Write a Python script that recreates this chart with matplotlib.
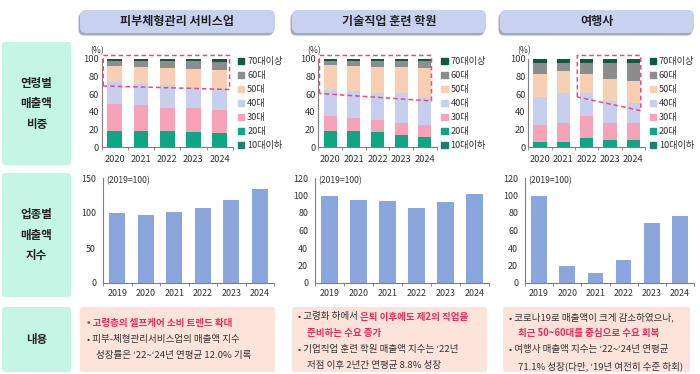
import matplotlib
matplotlib.use('Agg')
import matplotlib.pyplot as plt
from matplotlib.patches import FancyBboxPatch, Patch
import numpy as np

plt.rcParams['font.family'] = ['Noto Sans CJK KR', 'DejaVu Sans']

# ---- data ----
titles = ['피부체형관리 서비스업', '기술직업 훈련 학원', '여행사']
row_labels = ['연령별\n매출액\n비중', '업종별\n매출액\n지수', '내용']

share_years = ['2020', '2021', '2022', '2023', '2024']
index_years = ['2019', '2020', '2021', '2022', '2023', '2024']
age_groups = ['10대이하', '20대', '30대', '40대', '50대', '60대', '70대이상']

# 연령별 매출액 비중 (%), 아래(10대이하)부터 위(70대이상) 순서
share_skin = [
    [0.5, 0.5, 0.5, 0.5, 0.5],
    [18.5, 18.5, 17.5, 16.5, 15.5],
    [30, 29, 27, 27, 26],
    [25, 24, 25, 24, 24],
    [18, 19, 20, 21, 22],
    [6, 7, 8, 9, 9],
    [2, 2, 2, 2, 3],
]
share_edu = [
    [0.5, 0.5, 0.5, 0.5, 0.5],
    [18.5, 18.5, 16.5, 13.5, 11.5],
    [16, 14, 14, 14, 13],
    [30, 31, 30, 33, 32],
    [28, 28, 30, 30, 33],
    [5, 6, 7, 7, 8],
    [2, 2, 2, 2, 2],
]
share_travel = [
    [0.5, 0.5, 0.5, 0.5, 0.5],
    [5.5, 5.5, 10.5, 7.5, 7.5],
    [19, 22, 25, 20, 19],
    [32, 33, 25, 24, 23],
    [26, 25, 22, 25, 25],
    [13, 10, 13, 18, 20],
    [4, 4, 4, 5, 5],
]

# 업종별 매출액 지수 (2019=100)
index_skin = [100, 97, 102, 107, 118, 134]
index_edu = [100, 95, 93.5, 86, 92.5, 102]
index_travel = [100, 20, 11, 26.5, 69, 77]

# 강조 박스 (x시작, x끝, 왼쪽 아래 y, 오른쪽 아래 y, 위 y)
hl_skin = [-0.44, 4.38, 69.5, 65.5, 104]
hl_edu = [-0.45, 4.28, 61, 52.5, 104]
hl_travel = [1.6, 4.32, 57, 41.5, 104]

RED = '#ee2a5c'
notes_skin = [
    [('• 고령층의 셀프케어 소비 트렌드 확대', RED)],
    [('• 피부-체형관리서비스업의 매출액 지수', None)],
    [('성장률은 ‘22~‘24년 연평균 12.0% 기록', None)],
]
notes_edu = [
    [('• 고령화 하에서 ', None), ('은퇴 이후에도 제2의 직업을', RED)],
    [('준비하는 수요 증가', RED)],
    [('• 기업직업 훈련 학원 매출액 지수는 ‘22년', None)],
    [('저점 이후 2년간 연평균 8.8% 성장', None)],
]
notes_travel = [
    [('• 코로나19로 매출액이 크게 감소하였으나,', None)],
    [('최근 50~60대를 중심으로 수요 회복', RED)],
    [('• 여행사 매출액 지수는 ‘22~‘24년 연평균', None)],
    [('71.1% 성장(다만, ‘19년 여전히 수준 하회)', None)],
]

shares = [share_skin, share_edu, share_travel]
indexes = [index_skin, index_edu, index_travel]
highlights = [hl_skin, hl_edu, hl_travel]
notes = [notes_skin, notes_edu, notes_travel]

age_colors = ['#17846a', '#0fa781', '#f6a3b9', '#c6d0ee', '#f6cfb4', '#8d8d8d', '#0e5a43']
bar_color = '#8ba6dc'
txt = '#333333'
axis_col = '#7f7f7f'

# ---- layout (pixels) ----
W, H = 700, 374
fig = plt.figure(figsize=(7, 3.74), dpi=100)


def px_axes(x0, x1, y_top, y_bot, z=1):
    return fig.add_axes([x0 / W, 1 - y_bot / H, (x1 - x0) / W, (y_bot - y_top) / H], zorder=z)


bg = px_axes(0, W, 0, H, z=0)
bg.set_xlim(0, W)
bg.set_ylim(H, 0)
bg.axis('off')

header_x = [(80, 275), (292, 486), (500, 694)]
for (x0, x1), t in zip(header_x, titles):
    bg.add_patch(FancyBboxPatch((x0 - 1.5, 12.5), x1 - x0, 23, boxstyle='round,pad=0,rounding_size=6',
                                fc='#a4a9bd', ec='none'))
    bg.add_patch(FancyBboxPatch((x0, 10), x1 - x0, 23, boxstyle='round,pad=0,rounding_size=6',
                                fc='#c8d2ee', ec='none'))
    bg.text((x0 + x1) / 2, 21.5, t, ha='center', va='center', fontsize=8.7, fontweight='bold', color='#222222')

row_y = [(42, 165), (173, 297), (307, 372)]
for (y0, y1), t in zip(row_y, row_labels):
    bg.add_patch(FancyBboxPatch((2, y0), 69, y1 - y0, boxstyle='round,pad=0,rounding_size=3',
                                fc='#c4f5e5', ec='none'))
    bg.text(36.5, (y0 + y1) / 2, t, ha='center', va='center', fontsize=8.3, fontweight='bold',
            color='#222222', linespacing=1.75)

note_box_x = [(80, 275), (292, 487), (503, 690)]
note_bullet_x = [87, 298, 509]
note_first_y = [323, 317, 317]
for (x0, x1), bx, fy, lines in zip(note_box_x, note_bullet_x, note_first_y, notes):
    bg.add_patch(FancyBboxPatch((x0, 307), x1 - x0, 65, boxstyle='round,pad=0,rounding_size=2',
                                fc='#fce4da', ec='none'))
    for i, segs in enumerate(lines):
        y = fy + i * 16.3
        x = bx if segs[0][0].startswith('•') else bx + 9
        prev = None
        for s, c in segs:
            kw = dict(fontsize=6.85, color=c or txt, fontweight='bold' if c else 'normal')
            if prev is None:
                prev = bg.text(x, y, s, ha='left', va='center', **kw)
            else:
                prev = bg.annotate(s, xy=(1, 0.5), xycoords=prev, ha='left', va='center', **kw)

# ---- stacked share charts ----
stack_px = [(101.7, 232.7), (318.3, 436.7), (528.3, 645)]
stack_xlim = [(-0.5, 4.41), (-0.45, 4.29), (-0.45, 4.33)]
for (x0, x1), xl, data, hl in zip(stack_px, stack_xlim, shares, highlights):
    ax = px_axes(x0, x1, 59, 147.3)
    ax.patch.set_alpha(0)
    pos = np.arange(len(share_years))
    bottom = np.zeros(len(share_years))
    handles = []
    for vals, col, lab in zip(data, age_colors, age_groups):
        ax.bar(pos, vals, 0.56, bottom=bottom, color=col, label=lab)
        bottom += np.array(vals)
        handles.append(Patch(color=col, label=lab))
    ax.set_xlim(*xl)
    ax.set_ylim(0, 100)
    ax.set_xticks(pos, share_years)
    ax.set_yticks(range(0, 101, 20))
    ax.set_xticks(np.arange(-0.5, len(pos), 1), minor=True)
    ax.tick_params(axis='both', which='major', length=0, labelsize=6.7, colors=txt)
    ax.tick_params(axis='x', which='major', pad=5.5)
    ax.tick_params(axis='y', which='major', pad=2)
    ax.tick_params(axis='x', which='minor', length=2.5, color=axis_col, width=0.6)
    for sp in ['top', 'right']:
        ax.spines[sp].set_visible(False)
    for sp in ['left', 'bottom']:
        ax.spines[sp].set_color(axis_col)
        ax.spines[sp].set_linewidth(0.8)
    ax.text(-0.035, 1.09, '(%)', transform=ax.transAxes, ha='center', va='center', fontsize=6.2, color=txt)
    xa, xb, yl, yr, yt = hl
    ax.plot([xa, xa, xb, xb, xa], [yl, yt, yt, yr, yl], ls=(0, (3, 2)), color='#f0477c', lw=1.1,
            clip_on=False, zorder=5)
    ax.legend(handles[::-1], age_groups[::-1], loc='upper left', bbox_to_anchor=(1.04, 1.02),
              frameon=False, fontsize=6.6, handlelength=0.7, handleheight=0.7, handletextpad=0.3,
              labelspacing=0.55, borderpad=0, borderaxespad=0, labelcolor=txt)

# ---- index bar charts ----
bar_px = [(103, 274), (315, 489), (525, 694)]
bar_ylim = [(150, 50), (120, 20), (120, 20)]
for (x0, x1), (top, step), vals in zip(bar_px, bar_ylim, indexes):
    ax = px_axes(x0, x1, 178, 283)
    ax.patch.set_alpha(0)
    pos = np.arange(len(index_years))
    ax.bar(pos, vals, 0.56, color=bar_color)
    ax.set_xlim(-0.5, len(pos) - 0.5)
    ax.set_ylim(0, top)
    ax.set_xticks(pos, index_years)
    ax.set_yticks(range(0, top + 1, step))
    ax.set_xticks(np.arange(-0.5, len(pos), 1), minor=True)
    ax.tick_params(axis='both', which='major', length=0, labelsize=6.4, colors=txt)
    ax.tick_params(axis='x', which='major', pad=4)
    ax.tick_params(axis='y', which='major', pad=5)
    ax.tick_params(axis='x', which='minor', length=2.5, color=axis_col, width=0.6)
    for sp in ['top', 'right']:
        ax.spines[sp].set_visible(False)
    for sp in ['left', 'bottom']:
        ax.spines[sp].set_color(axis_col)
        ax.spines[sp].set_linewidth(0.8)
    ax.text(0.02, 0.975, '(2019=100)', transform=ax.transAxes, ha='left', va='center', fontsize=6.2, color=txt)

fig.savefig('out.png', dpi=100, facecolor='white')
